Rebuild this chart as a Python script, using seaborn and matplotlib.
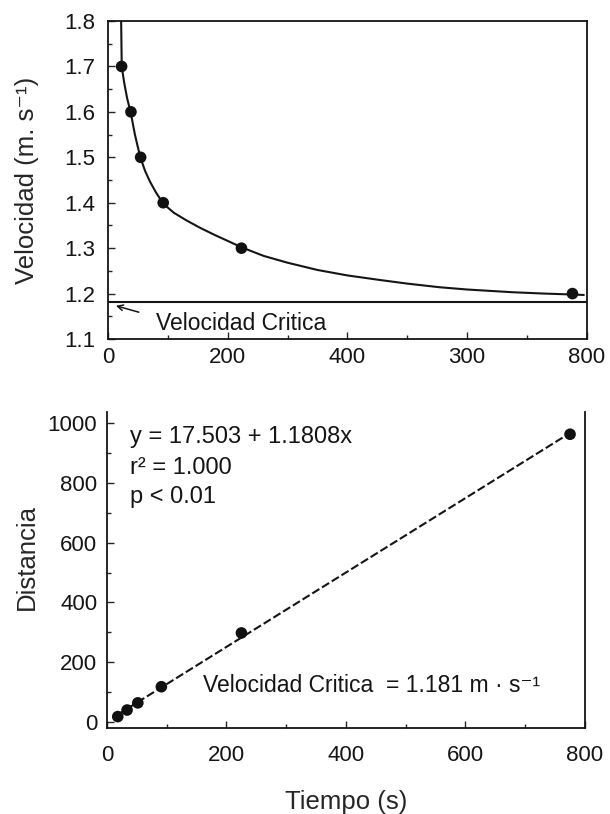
#Grafico de velocidad critica: velocidad vs tiempo y distancia vs tiempo
import matplotlib
matplotlib.use("Agg")
import matplotlib.pyplot as plt
from matplotlib.ticker import MultipleLocator
import seaborn as sns
import numpy as np

#Puntos medidos (tiempo en s, velocidad en m/s)
tiempo_v = [22.8, 38.4, 54.6, 92.3, 223, 776]
velocidad = [1.70, 1.60, 1.50, 1.40, 1.30, 1.20]

#Curva ajustada
curva_t = [22.0, 22.5, 23.0, 27, 32, 38.4, 45, 50, 54.6, 62, 70, 80, 92.3,
           110, 130, 153.6, 180, 200, 223, 260, 300, 350, 400, 454, 500, 554,
           600, 676, 730, 776, 795]
curva_v = [1.80, 1.75, 1.70, 1.665, 1.63, 1.596, 1.55, 1.522, 1.498, 1.47,
           1.447, 1.423, 1.398, 1.378, 1.362, 1.345, 1.328, 1.316, 1.302, 1.283,
           1.268, 1.252, 1.240, 1.230, 1.222, 1.214, 1.209, 1.203, 1.200,
           1.198, 1.197]

velocidad_critica = 1.181

#Puntos distancia vs tiempo
tiempo_d = [18, 33.6, 51.6, 91, 225, 775]
distancia = [18, 40, 64, 118, 298, 963]

top_xticks = [0, 200, 400, 600, 800]
top_xlabels = ["0", "200", "400", "300", "800"]

sns.set_style("ticks")
plt.rcParams['font.family'] = ['Liberation Sans', 'DejaVu Sans']
plt.rcParams['axes.linewidth'] = 1.3
plt.rcParams['text.color'] = '#151515'
plt.rcParams['axes.edgecolor'] = '#151515'

fig = plt.figure(figsize=(6.1, 8.14), dpi=100)
ax1 = fig.add_axes([0.177, 0.5835, 0.785, 0.3907])
ax2 = fig.add_axes([0.1754, 0.1057, 0.7836, 0.388])

#----- Grafico de arriba -----
sns.lineplot(x=curva_t, y=curva_v, ax=ax1, color='#151515', lw=1.5,
             estimator=None, sort=False)
sns.scatterplot(x=tiempo_v, y=velocidad, ax=ax1, color='#111111', s=70,
                edgecolor='none', zorder=5)
ax1.axhline(velocidad_critica, color='#151515', lw=1.5)
ax1.set_xlim(0, 800)
ax1.set_ylim(1.1, 1.8)
ax1.set_xticks(top_xticks)
ax1.set_xticklabels(top_xlabels)
ax1.yaxis.set_major_locator(MultipleLocator(0.1))
ax1.yaxis.set_minor_locator(MultipleLocator(0.05))
ax1.xaxis.set_minor_locator(MultipleLocator(100))
ax1.tick_params(axis='both', which='major', direction='in', length=5, width=1,
                labelsize=16, labelcolor='#151515')
ax1.tick_params(axis='both', which='minor', direction='in', length=3, width=1)
ax1.tick_params(axis='y', pad=9)
ax1.tick_params(axis='x', pad=6)
ax1.set_ylabel("Velocidad (m. s\u207b\u00b9)", fontsize=18.5)
ax1.yaxis.set_label_coords(-0.145, 0.5)
ax1.text(0.1, 0.05, "Velocidad Critica", transform=ax1.transAxes,
         fontsize=16.5, va='center', ha='left')
ax1.annotate("", xy=(0.011, 0.107), xytext=(0.070, 0.082),
             xycoords='axes fraction', textcoords='axes fraction',
             arrowprops=dict(arrowstyle='->', color='#151515', lw=1.1))

#----- Grafico de abajo -----
sns.regplot(x=tiempo_d, y=distancia, ax=ax2, ci=None, truncate=True,
            color='#111111',
            scatter_kws=dict(s=70, edgecolor='none', zorder=5, alpha=1),
            line_kws=dict(ls=(0, (4, 1.5)), lw=1.5, color='#151515'))
ax2.set_xlim(0, 800)
ax2.set_ylim(-20, 1037)
ax2.set_xticks([0, 200, 400, 600, 800])
ax2.set_yticks([0, 200, 400, 600, 800, 1000])
ax2.xaxis.set_minor_locator(MultipleLocator(100))
ax2.yaxis.set_minor_locator(MultipleLocator(100))
ax2.spines['top'].set_visible(False)
ax2.tick_params(axis='both', which='major', direction='in', length=5, width=1,
                labelsize=16, labelcolor='#151515')
ax2.tick_params(axis='both', which='minor', direction='in', length=3, width=1)
ax2.tick_params(axis='y', pad=7)
ax2.tick_params(axis='x', pad=12)
ax2.set_xlabel("Tiempo (s)", fontsize=18.5)
ax2.xaxis.set_label_coords(0.5, -0.195)
ax2.set_ylabel("Distancia", fontsize=18.5)
ax2.yaxis.set_label_coords(-0.142, 0.54)

ax2.text(0.048, 0.921, "y = 17.503 + 1.1808x", transform=ax2.transAxes,
         fontsize=17, va='center', ha='left')
ax2.text(0.048, 0.823, "r\u00b2 = 1.000", transform=ax2.transAxes,
         fontsize=17, va='center', ha='left')
ax2.text(0.048, 0.731, "p < 0.01", transform=ax2.transAxes,
         fontsize=17, va='center', ha='left')
ax2.text(0.2008, 0.136, "Velocidad Critica  = 1.181 m \u00b7 s\u207b\u00b9",
         transform=ax2.transAxes, fontsize=16.5, va='center', ha='left')

fig.savefig("out.png", dpi=100)
